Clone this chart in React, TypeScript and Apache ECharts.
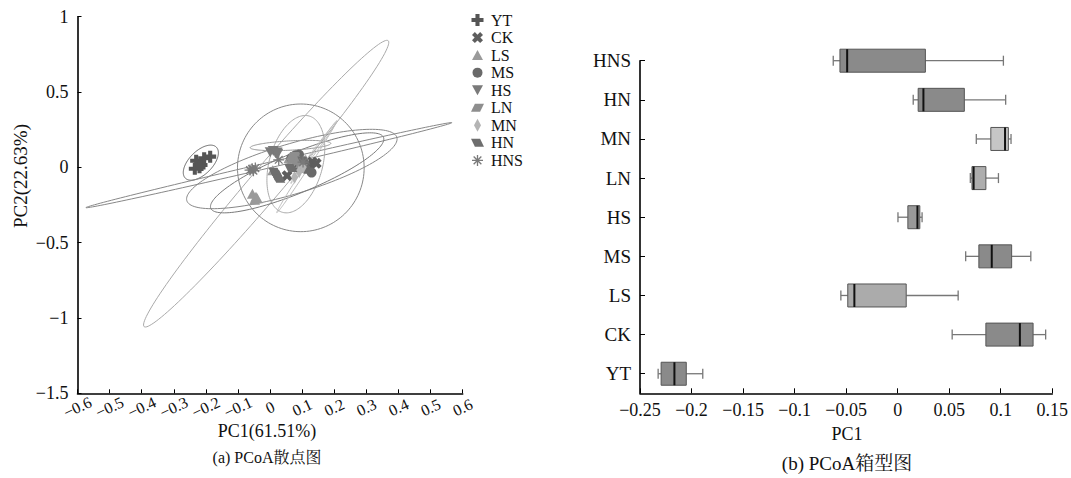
import React, { useEffect, useRef } from "react";
import * as echarts from "echarts";

// ---------- data ----------
const groups = ["YT", "CK", "LS", "MS", "HS", "LN", "MN", "HN", "HNS"];

// PCoA scatter (PC1, PC2) per group
const pc1YT = [-0.2345, -0.2303, -0.2199, -0.2137, -0.2054, -0.1867];
const pc2YT = [-0.009, 0.044, 0.0, 0.016, 0.06, 0.071];
const pc1CK = [0.0529, 0.0856, 0.115, 0.1222, 0.1314, 0.1436];
const pc2CK = [-0.055, 0.01, 0.02, 0.005, 0.035, 0.027];
const pc1LS = [-0.0551, -0.0484, -0.044, -0.04, 0.0083, 0.0587];
const pc2LS = [-0.175, -0.215, -0.195, -0.205, -0.02, 0.06];
const pc1MS = [0.066, 0.0788, 0.09, 0.0926, 0.1106, 0.1292];
const pc2MS = [0.06, 0.08, 0.085, 0.03, -0.01, -0.035];
const pc1HS = [0.0003, 0.0099, 0.017, 0.0214, 0.0215, 0.0237];
const pc2HS = [0.1, 0.108, 0.095, 0.088, 0.098, 0.09];
const pc1LN = [0.0705, 0.0721, 0.0733, 0.0741, 0.0856, 0.0978];
const pc2LN = [0.075, 0.06, 0.07, 0.05, 0.04, 0.02];
const pc1MN = [0.0763, 0.0904, 0.103, 0.1054, 0.1074, 0.11];
const pc2MN = [-0.065, -0.03, 0.0, 0.02, 0.03, 0.045];
const pc1HN = [0.0151, 0.0199, 0.023, 0.027, 0.0647, 0.1048];
const pc2HN = [-0.03, -0.045, -0.06, -0.075, -0.005, 0.045];
const pc1HNS = [-0.0625, -0.056, -0.052, -0.046, 0.0269, 0.1026];
const pc2HNS = [-0.018, -0.01, -0.022, -0.005, 0.05, 0.035];

const scatterPC1 = [pc1YT, pc1CK, pc1LS, pc1MS, pc1HS, pc1LN, pc1MN, pc1HN, pc1HNS];
const scatterPC2 = [pc2YT, pc2CK, pc2LS, pc2MS, pc2HS, pc2LN, pc2MN, pc2HN, pc2HNS];

// confidence ellipses: centre and two conjugate semi-axis vectors (data units)
const ellipseCX = [-0.2158, -0.0039, -0.0123, 0.0957, 0.0802, 0.0677, 0.0843, 0.0636, 0.1144, 0.1347];
const ellipseCY = [0.031, 0.0144, -0.1084, -0.0033, 0.021, -0.0111, -0.0365, 0.1449, 0.0044, 0.0951];
const ellipseUX = [0.0483, 0.5701, 0.3801, 0.1973, 0.0415, 0.3271, 0.269, 0.1256, 0.0935, 0.0701];
const ellipseUY = [0.1029, 0.2821, 0.9491, 0.0, 0.3197, 0.2102, 0.2356, 0.0144, 0.3053, 0.2013];
const ellipseVX = [0.0256, 0.002, 0.0379, 0.0, 0.08, 0.0225, 0.0237, 0.0008, 0.0052, 0.0042];
const ellipseVY = [-0.0546, -0.0179, -0.0688, -0.4237, -0.0471, -0.1589, -0.1228, -0.031, -0.0073, -0.0066];

// PC1 box plot (bottom to top: YT ... HNS)
const boxMin = [-0.2324, 0.0529, -0.0551, 0.066, 0.0003, 0.0705, 0.0763, 0.0151, -0.0625];
const boxQ1 = [-0.2295, 0.0856, -0.0484, 0.0788, 0.0099, 0.0721, 0.0904, 0.0199, -0.056];
const boxMedian = [-0.2166, 0.1186, -0.042, 0.0913, 0.0192, 0.0737, 0.1042, 0.025, -0.049];
const boxQ3 = [-0.2051, 0.1314, 0.0083, 0.1106, 0.0215, 0.0856, 0.1074, 0.0647, 0.0269];
const boxMax = [-0.1891, 0.1436, 0.0587, 0.1292, 0.0237, 0.0978, 0.11, 0.1048, 0.1026];

// ---------- styles ----------
const SERIF = '"Liberation Serif", "Times New Roman", "Noto Serif CJK SC", "Noto Sans CJK SC", serif';
const groupColors = ["#555555", "#5e5e5e", "#9a9a9a", "#6a6a6a", "#7a7a7a", "#8e8e8e", "#b4b4b4", "#6e6e6e", "#7a7a7a"];
const groupSymbols = ["plus", "cross", "tri", "circ", "dtri", "parR", "diam", "parL", "ast"];
const groupSizes: number[][] = [[12, 12], [11, 11], [11, 10], [10, 10], [11, 10], [13, 8], [7, 13], [13, 8], [11, 11]];
const ellipseColors = ["#666", "#888", "#aaa", "#888", "#aaa", "#888", "#7a7a7a", "#999", "#bbb", "#bbb"];
const boxFills = ["#8a8a8a", "#8a8a8a", "#ababab", "#8a8a8a", "#999999", "#adadad", "#c6c6c6", "#8a8a8a", "#8a8a8a"];

const SYMBOL_PATHS: Record<string, string> = {
  plus: "M3.3,0L6.7,0L6.7,3.3L10,3.3L10,6.7L6.7,6.7L6.7,10L3.3,10L3.3,6.7L0,6.7L0,3.3L3.3,3.3Z",
  cross: "M2.6,0L5,2.4L7.4,0L10,2.6L7.6,5L10,7.4L7.4,10L5,7.6L2.6,10L0,7.4L2.4,5L0,2.6Z",
  tri: "M5,0L10,10L0,10Z",
  circ: "M0,5A5,5,0,1,1,10,5A5,5,0,1,1,0,5Z",
  dtri: "M0,0L10,0L5,10Z",
  parR: "M3,0L10,0L7,10L0,10Z",
  diam: "M5,0L10,5L5,10L0,5Z",
  parL: "M0,0L7,0L10,10L3,10Z",
  ast: "M5,0L5,10M0,5L10,5M1.5,1.5L8.5,8.5M1.5,8.5L8.5,1.5",
};
Object.keys(SYMBOL_PATHS).forEach((k) => {
  echarts.graphic.registerShape("sym_" + k, echarts.graphic.extendPath(SYMBOL_PATHS[k], {}));
});

const fmt = (v: number) => {
  const r = Math.round(v * 1000) / 1000;
  return r < 0 ? "\u2212" + String(-r) : String(r);
};

const boxCategories: string[] = [];
groups.forEach((g) => {
  boxCategories.push("");
  boxCategories.push(g);
});

function buildOption(): any {
  const axisLineStyle = { color: "#000", width: 1.6 };
  const tickStyle = { color: "#000", width: 1 };

  const series: any[] = [];

  series.push({
    type: "custom",
    name: "ellipses",
    xAxisIndex: 0,
    yAxisIndex: 0,
    dimensions: ["cx", "cy", "ux", "uy", "vx", "vy"],
    encode: { x: 0, y: 1 },
    data: ellipseCX.map((cx, i) => [cx, ellipseCY[i], ellipseUX[i], ellipseUY[i], ellipseVX[i], ellipseVY[i]]),
    z: 1,
    renderItem: (params: any, api: any) => {
      const cx = api.value(0);
      const cy = api.value(1);
      const c = api.coord([cx, cy]);
      const pu = api.coord([cx + api.value(2), cy + api.value(3)]);
      const pv = api.coord([cx + api.value(4), cy + api.value(5)]);
      const U = [pu[0] - c[0], pu[1] - c[1]];
      const V = [pv[0] - c[0], pv[1] - c[1]];
      const pts: number[][] = [];
      const n = 140;
      for (let k = 0; k < n; k++) {
        const t = (2 * Math.PI * k) / n;
        pts.push([c[0] + U[0] * Math.cos(t) + V[0] * Math.sin(t), c[1] + U[1] * Math.cos(t) + V[1] * Math.sin(t)]);
      }
      return {
        type: "polygon",
        shape: { points: pts },
        style: { fill: "none", stroke: ellipseColors[params.dataIndex], lineWidth: 1 },
      };
    },
  });

  groups.forEach((g, gi) => {
    const isAst = groupSymbols[gi] === "ast";
    series.push({
      type: "scatter",
      name: g,
      xAxisIndex: 0,
      yAxisIndex: 0,
      z: 3,
      symbol: groupSymbols[gi] === "circ" ? "circle" : "path://" + SYMBOL_PATHS[groupSymbols[gi]],
      symbolSize: groupSizes[gi],
      data: scatterPC1[gi].map((x, i) => [x, scatterPC2[gi][i]]),
      itemStyle: isAst
        ? { color: "rgba(0,0,0,0)", borderColor: groupColors[gi], borderWidth: 1.3, opacity: 1 }
        : { color: groupColors[gi], opacity: 1 },
    });
  });

  series.push({
    type: "custom",
    name: "box",
    xAxisIndex: 1,
    yAxisIndex: 1,
    dimensions: ["min", "cat", "q1", "med", "q3", "max"],
    encode: { x: [0, 2, 3, 4, 5], y: 1 },
    data: groups.map((g, i) => [boxMin[i], g, boxQ1[i], boxMedian[i], boxQ3[i], boxMax[i]]),
    z: 2,
    renderItem: (params: any, api: any) => {
      const k = api.value(1);
      const pMin = api.coord([api.value(0), k]);
      const pQ1 = api.coord([api.value(2), k]);
      const pMed = api.coord([api.value(3), k]);
      const pQ3 = api.coord([api.value(4), k]);
      const pMax = api.coord([api.value(5), k]);
      const h = 23;
      const capH = 5;
      const y = pMin[1];
      const wStyle = { stroke: "#777", lineWidth: 1.3 };
      return {
        type: "group",
        children: [
          { type: "line", shape: { x1: pMin[0], y1: y, x2: pQ1[0], y2: y }, style: wStyle },
          { type: "line", shape: { x1: pQ3[0], y1: y, x2: pMax[0], y2: y }, style: wStyle },
          { type: "line", shape: { x1: pMin[0], y1: y - capH, x2: pMin[0], y2: y + capH }, style: wStyle },
          { type: "line", shape: { x1: pMax[0], y1: y - capH, x2: pMax[0], y2: y + capH }, style: wStyle },
          {
            type: "rect",
            shape: { x: pQ1[0], y: y - h / 2, width: pQ3[0] - pQ1[0], height: h },
            style: { fill: boxFills[params.dataIndex], stroke: "#555", lineWidth: 1 },
          },
          {
            type: "line",
            shape: { x1: pMed[0], y1: y - h / 2, x2: pMed[0], y2: y + h / 2 },
            style: { stroke: "#111", lineWidth: 2 },
          },
        ],
      };
    },
  });

  const graphics: any[] = [];
  const rowY0 = 20;
  const rowStep = 17.55;
  groups.forEach((g, gi) => {
    const cy = rowY0 + rowStep * gi;
    const cx = 477.5;
    const [w, h] = groupSizes[gi];
    const sym = groupSymbols[gi];
    const isAst = sym === "ast";
    graphics.push({
      type: "sym_" + sym,
      x: cx - w / 2,
      y: cy - h / 2,
      scaleX: w / 10,
      scaleY: h / 10,
      style: isAst
        ? { fill: "none", stroke: groupColors[gi], lineWidth: 1.2 }
        : { fill: groupColors[gi] },
    });
    graphics.push({
      type: "text",
      x: 491,
      y: cy,
      style: {
        text: g,
        fontSize: 16,
        lineHeight: 15,
        fontFamily: SERIF,
        fill: "#111",
        align: "left",
        verticalAlign: "middle",
        textAlign: "left",
        textVerticalAlign: "middle",
      },
    });
  });

  const addText = (text: string, x: number, y: number, size: number, rotation = 0) => {
    graphics.push({
      type: "text",
      x,
      y,
      rotation,
      style: {
        text,
        fontSize: size,
        fontFamily: SERIF,
        fill: "#111",
        align: "center",
        verticalAlign: "middle",
        textAlign: "center",
        textVerticalAlign: "middle",
      },
    });
  };
  addText("PC2(22.63%)", 20, 176, 19, Math.PI / 2);
  addText("PC1(61.51%)", 267, 431, 18);
  addText("(a) PCoA散点图", 267, 457, 16);
  addText("PC1", 847, 434, 18);
  addText("(b) PCoA箱型图", 847, 463, 19);

  return {
    animation: false,
    backgroundColor: "#fff",
    textStyle: { fontFamily: SERIF },
    grid: [
      { left: 77.5, top: 16.7, width: 385.2, height: 376.6 },
      { left: 640, top: 60.7, width: 416, height: 332.6 },
    ],
    xAxis: [
      {
        gridIndex: 0,
        type: "value",
        min: -0.6,
        max: 0.6,
        interval: 0.1,
        axisLine: { show: true, onZero: false, lineStyle: axisLineStyle },
        axisTick: { show: true, inside: true, length: 4, lineStyle: tickStyle },
        axisLabel: {
          rotate: 25,
          align: "center",
          verticalAlign: "middle",
          margin: 14,
          fontSize: 16,
          lineHeight: 10,
          fontFamily: SERIF,
          color: "#111",
          showMinLabel: true,
          showMaxLabel: true,
          hideOverlap: false,
          formatter: fmt,
        },
        splitLine: { show: false },
      },
      {
        gridIndex: 1,
        type: "value",
        min: -0.25,
        max: 0.15,
        interval: 0.05,
        axisLine: { show: true, onZero: false, lineStyle: axisLineStyle },
        axisTick: { show: true, inside: true, length: 5, lineStyle: tickStyle },
        axisLabel: {
          margin: 8,
          fontSize: 18,
          fontFamily: SERIF,
          color: "#111",
          showMinLabel: true,
          showMaxLabel: true,
          hideOverlap: false,
          formatter: fmt,
        },
        splitLine: { show: false },
      },
    ],
    yAxis: [
      {
        gridIndex: 0,
        type: "value",
        min: -1.5,
        max: 1,
        interval: 0.5,
        axisLine: { show: true, onZero: false, lineStyle: axisLineStyle },
        axisTick: { show: true, inside: true, length: 4, lineStyle: tickStyle },
        axisLabel: {
          margin: 9,
          fontSize: 18,
          fontFamily: SERIF,
          color: "#111",
          showMinLabel: true,
          showMaxLabel: true,
          hideOverlap: false,
          formatter: fmt,
        },
        splitLine: { show: false },
      },
      {
        gridIndex: 1,
        type: "category",
        data: boxCategories,
        boundaryGap: false,
        axisLine: { show: true, onZero: false, lineStyle: axisLineStyle },
        axisTick: {
          show: true,
          inside: true,
          length: 5,
          lineStyle: tickStyle,
          interval: (_i: number, v: string) => v !== "",
        },
        axisLabel: {
          interval: 0,
          margin: 9,
          fontSize: 19,
          fontFamily: SERIF,
          color: "#111",
          hideOverlap: false,
        },
        splitLine: { show: false },
      },
    ],
    graphic: { elements: graphics },
    series,
  };
}

export default function App() {
  const ref = useRef<HTMLDivElement>(null);
  useEffect(() => {
    document.body.style.margin = "0";
    const chart = echarts.init(ref.current as HTMLDivElement, null, { renderer: "svg" });
    chart.setOption(buildOption());
    return () => {
      chart.dispose();
    };
  }, []);
  return <div ref={ref} style={{ width: 1071, height: 478 }} />;
}
